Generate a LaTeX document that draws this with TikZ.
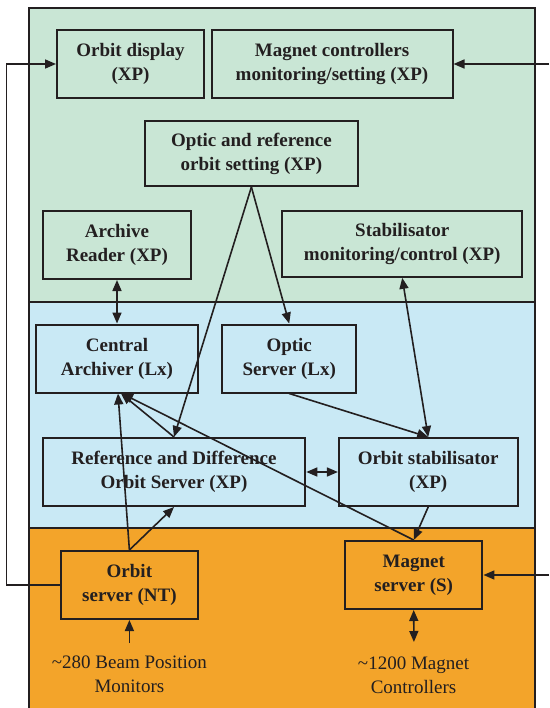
\documentclass[tikz,border=0pt]{standalone}
\usepackage{fontspec}
\setmainfont{Liberation Serif}
\usetikzlibrary{arrows.meta,calc}
\definecolor{ink}{HTML}{231F20}
\definecolor{pgreen}{HTML}{C9E6D5}
\definecolor{pblue}{HTML}{C9E9F5}
\definecolor{porange}{HTML}{F3A42A}
\tikzset{
  box/.style={draw=ink, line width=2pt, inner sep=0pt, align=center, text=ink,
    font=\fontsize{19}{24}\selectfont\bfseries, minimum height=68pt},
  lbl/.style={inner sep=0pt, align=center, text=ink, font=\fontsize{19}{24}\selectfont},
  arr/.style={draw=ink, line width=1.6pt, -{Triangle[length=11pt,width=9pt]}},
  darr/.style={draw=ink, line width=1.6pt, {Triangle[length=11pt,width=9pt]}-{Triangle[length=11pt,width=9pt]}},
  plain/.style={draw=ink, line width=1.6pt},
  panel/.style={draw=ink, line width=1.6pt}
}
\begin{document}
\begin{tikzpicture}[x=1pt,y=-1pt]
\useasboundingbox (0,0) rectangle (549,708);
% panels
\fill[pgreen] (29,8) rectangle (535,302);
\fill[pblue] (29,302) rectangle (535,528);
\fill[porange] (29,528) rectangle (535,708);
\draw[panel] (29,708) -- (29,8) -- (535,8) -- (535,708);
\draw[panel] (29,302) -- (535,302);
\draw[panel] (29,528) -- (535,528);
% boxes
\node[box, minimum width=147pt] (od) at (130.5,64) {Orbit display\\(XP)};
\node[box, minimum width=241pt] (mc) at (332,64) {Magnet controllers\\monitoring/setting (XP)};
\node[box, minimum width=213.6pt, minimum height=65pt] (ors) at (251.4,153.5) {Optic and reference\\orbit setting (XP)};
\node[box, minimum width=148.5pt] (ar) at (117,245) {Archive\\Reader (XP)};
\node[box, minimum width=240.4pt, minimum height=65.7pt] (sm) at (402.2,244) {Stabilisator\\monitoring/control (XP)};
\node[box, minimum width=162.5pt] (ca) at (117,358.5) {Central\\Archiver (Lx)};
\node[box, minimum width=134.4pt] (os) at (289.2,358.5) {Optic\\Server (Lx)};
\node[box, minimum width=262.6pt] (rd) at (174,472) {Reference and Difference\\Orbit Server (XP)};
\node[box, minimum width=178.6pt] (ost) at (428.2,472) {Orbit stabilisator\\(XP)};
\node[box, minimum width=137.6pt] (osv) at (129.4,585) {Orbit\\server (NT)};
\node[box, minimum width=137.5pt] (ms) at (413.7,575) {Magnet\\server (S)};
% labels
\node[lbl] (bpm) at (129.4,674.5) {\textasciitilde280 Beam Position\\Monitors};
\node[lbl] (mag) at (413.5,675) {\textasciitilde1200 Magnet\\Controllers};
\coordinate (bpmtop) at (129.4,643);
\coordinate (magtop) at (413.9,642);
\coordinate (rin1) at (549,64);
\coordinate (rin2) at (549,575);
% connectors
\draw[arr] (osv.west) -- ++(-53,0) |- (od.west);
\draw[arr] (rin1) -- (mc.east);
\draw[arr] (rin2) -- (ms.east);
\draw[darr] (ar.south) -- (ca.north);
\draw[arr] (ors.south) -- (rd.north);
\draw[arr] (ors.south) -- (os.north);
\draw[darr] (sm.south) -- (ost.north);
\draw[arr] (os.south) -- (ost.north);
\draw[darr] (rd.east) -- (ost.west);
\draw[arr] (ost.south) -- (ms.north);
\draw[arr] (osv.north) -- ([xshift=1pt]ca.south);
\draw[arr] (osv.north) -- (rd.south);
\draw[arr] (rd.north) -- ([xshift=4pt]ca.south);
\draw[arr] (ms.north) -- ([xshift=5pt]ca.south);
\draw[arr] (bpmtop) -- (osv.south);
\draw[darr] (ms.south) -- (magtop);
\end{tikzpicture}
\end{document}
